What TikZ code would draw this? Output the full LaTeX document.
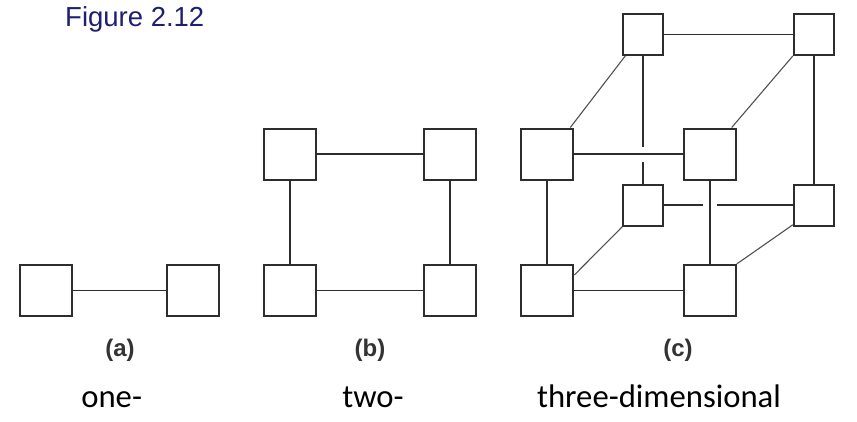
\documentclass[tikz,border=0pt]{standalone}
\usepackage{fontspec}
\setmainfont{Carlito}
\newfontfamily\arialf{Liberation Sans}
\definecolor{navy}{RGB}{30,30,115}
\definecolor{edge}{RGB}{45,45,45}
\definecolor{diag}{RGB}{80,80,80}
\begin{document}
\begin{tikzpicture}[x=1pt,y=-1pt,
  bigbox/.style={draw=edge,line width=2pt,minimum width=52pt,minimum height=51pt,inner sep=0pt,fill=white},
  smallbox/.style={draw=edge,line width=2pt,minimum width=40pt,minimum height=41pt,inner sep=0pt,fill=white},
  link/.style={draw=edge,line width=1.7pt},
  dlink/.style={draw=diag,line width=1.1pt},
  sublabel/.style={font=\arialf\fontsize{24}{28}\selectfont\bfseries,text=black!80,anchor=base},
  dimlabel/.style={font=\fontsize{32.7}{36}\selectfont,text=black,anchor=base}]
\useasboundingbox (0,0) rectangle (857,421);
\node[font=\arialf\fontsize{27.5}{31}\selectfont,text=navy,anchor=base west,inner sep=0pt] (title) at (65,26.7) {Figure 2.12};
% (a)
\node[bigbox] (a1) at (46.3,290.5) {};
\node[bigbox] (a2) at (192.7,290.5) {};
\draw[link] (a1) -- (a2);
% (b)
\node[bigbox] (btl) at (289.7,154) {};
\node[bigbox] (btr) at (449.7,154) {};
\node[bigbox] (bbl) at (289.7,290.5) {};
\node[bigbox] (bbr) at (449.7,290.5) {};
\draw[link] (btl) -- (btr);
\draw[link] (bbl) -- (bbr);
\draw[link] (btl) -- (bbl);
\draw[link] (btr) -- (bbr);
% (c) back
\node[smallbox] (kTL) at (643.2,34.5) {};
\node[smallbox] (kTR) at (813.8,34.5) {};
\node[smallbox] (kBL) at (643.2,205.3) {};
\node[smallbox] (kBR) at (813.8,205.3) {};
% (c) front
\node[bigbox] (fTL) at (547.3,154) {};
\node[bigbox] (fTR) at (709.7,154) {};
\node[bigbox] (fBL) at (547.3,290.5) {};
\node[bigbox] (fBR) at (709.7,290.5) {};
\coordinate (g1) at (643.2,146.7);
\coordinate (g2) at (643.2,161.7);
\coordinate (g3) at (702.7,205.3);
\coordinate (g4) at (716.7,205.3);
\draw[link] (kTL) -- (kTR);
\draw[link] (kTR) -- (kBR);
\draw[link] (kTL.south) -- (g1);
\draw[link] (g2) -- (kBL.north);
\draw[link] (kBL.east) -- (g3);
\draw[link] (g4) -- (kBR.west);
\draw[link] (fTL) -- (fTR);
\draw[link] (fBL) -- (fBR);
\draw[link] (fTL) -- (fBL);
\draw[link] (fTR) -- (fBR);
\draw[dlink] ([xshift=-4pt]fTL.north east) -- ([xshift=3pt]kTL.south west);
\draw[dlink] ([xshift=-5pt]fTR.north east) -- (kTR.south west);
\draw[dlink] ([yshift=-11pt]fBL.north east) -- (kBL.south west);
\draw[dlink] (fBR.north east) -- ([yshift=2pt]kBR.south west);
% labels
\node[sublabel] (la) at (120,356) {(a)};
\node[sublabel] (lb) at (370,356) {(b)};
\node[sublabel] (lc) at (678,356) {(c)};
\node[dimlabel] (d1) at (111.7,407) {one-};
\node[dimlabel] (d2) at (373,407) {two-};
\node[dimlabel] (d3) at (659,407) {three-dimensional};
\end{tikzpicture}
\end{document}
